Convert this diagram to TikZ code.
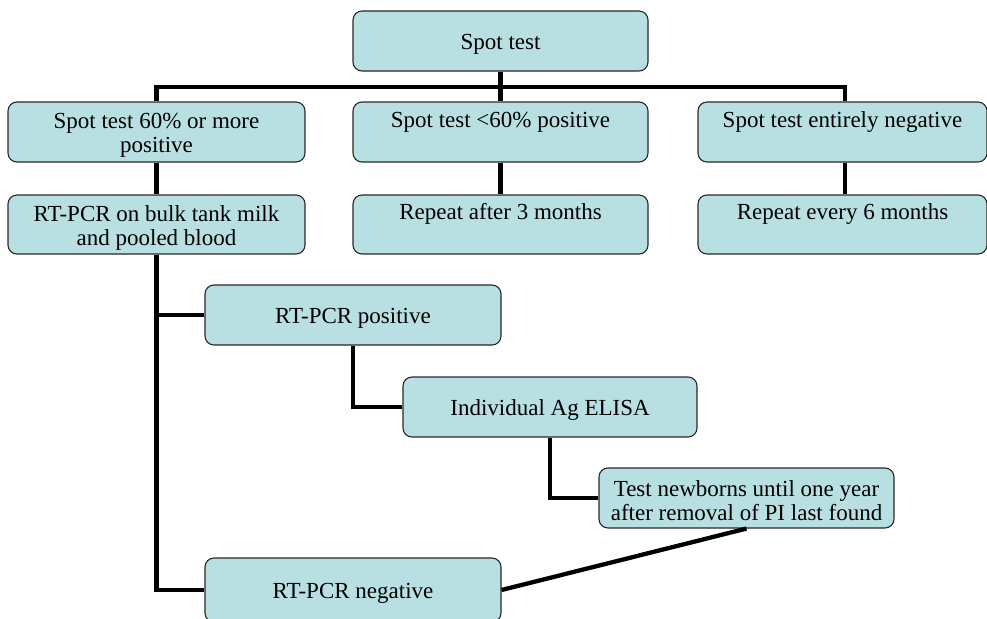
\documentclass[tikz,border=0pt]{standalone}
\usepackage{fontspec}
\setmainfont{Liberation Serif}
\definecolor{boxfill}{RGB}{184,224,227}
\definecolor{boxline}{RGB}{40,40,40}
\newcommand{\tsp}{\rule{0pt}{22pt}}
\begin{document}
\begin{tikzpicture}[x=1pt,y=-1pt,
  box/.style={draw=boxline, line width=1.1pt, fill=boxfill, rounded corners=9pt,
    minimum width=295pt, minimum height=60pt, align=center, inner sep=0pt,
    font=\fontsize{23}{24}\selectfont},
  conn/.style={line width=4.3pt, draw=black, line join=miter}]
\useasboundingbox (0,0) rectangle (987,618);

\node[box] (b0) at (500.5,41) {\tsp Spot test};
\node[box, minimum width=297pt] (b1) at (156.5,132) {\tsp Spot test 60\% or more\\positive};
\node[box] (b2) at (500.5,132) {\tsp Spot test <60\% positive\\ \strut};
\node[box, minimum width=289pt] (b3) at (842.5,132) {\tsp Spot test entirely negative\\ \strut};
\node[box, minimum width=297pt, minimum height=59pt] (b4) at (156.5,224.5) {\tsp RT-PCR on bulk tank milk\\and pooled blood};
\node[box, minimum height=59pt] (b5) at (500.5,224.5) {\tsp Repeat after 3 months\\ \strut};
\node[box, minimum width=289pt, minimum height=59pt] (b6) at (842.5,224.5) {\tsp Repeat every 6 months\\ \strut};
\node[box, minimum width=296pt] (b7) at (353,315) {\tsp RT-PCR positive};
\node[box, minimum width=294pt] (b8) at (550,407) {\tsp Individual Ag ELISA};
\node[box] (b9) at (746.5,498) {\tsp Test newborns until one year\\after removal of PI last found};
\node[box, minimum width=296pt, minimum height=64pt] (b10) at (353,590) {\tsp RT-PCR negative};

\coordinate (h) at (0,87);
\draw[conn] (b1.north) -- (b1.north |- h) -- ([xshift=2.5pt]b3.north |- h) -- ([xshift=2.5pt]b3.north);
\draw[conn] (b0.south) -- (b2.north);
\draw[conn] (b1.south) -- (b4.north);
\draw[conn] (b2.south) -- (b5.north);
\draw[conn] ([xshift=2.5pt]b3.south) -- ([xshift=2.5pt]b6.north);
\draw[conn] (b4.south) |- (b10.west);
\draw[conn] (b4.south |- b7.west) -- (b7.west);
\draw[conn] (b7.south) |- (b8.west);
\draw[conn] (b8.south) |- (b9.west);
\draw[conn] (b9.south) -- (b10.east);
\end{tikzpicture}
\end{document}
